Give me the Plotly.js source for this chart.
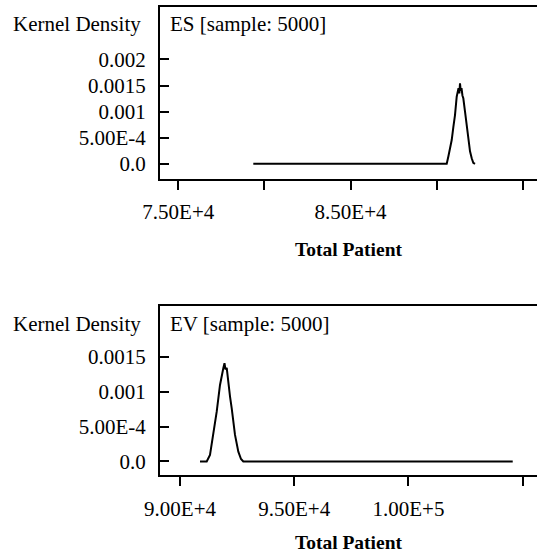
<!DOCTYPE html>
<html>
<head>
<meta charset="utf-8">
<script src="https://cdn.plot.ly/plotly-3.0.1.min.js"></script>
<style>html,body{margin:0;padding:0;background:#fff;}</style>
</head>
<body>
<div id="chart" style="width:537px;height:553px;"></div>
<script>
// ES kernel density (Total Patient vs density)
const esX = [79355, 82000, 85000, 88000, 90587, 90679, 90780, 90877, 90970, 91068, 91167, 91230, 91272, 91320, 91359, 91400, 91446, 91500, 91551, 91650, 91748, 91841, 91940, 92039, 92130, 92230];
const esY = [0, 0, 0, 0, 0, 0.000136, 0.00029, 0.000456, 0.00070, 0.000935, 0.001286, 0.00136, 0.00145, 0.00135, 0.001542, 0.00140, 0.00145, 0.00131, 0.001255, 0.00100, 0.000743, 0.000423, 0.00024, 0.000105, 0.00002, 0];
// EV kernel density
const evX = [90876, 91169, 91313, 91458, 91607, 91751, 91839, 91896, 91948, 91990, 92045, 92115, 92190, 92264, 92408, 92553, 92671, 92771, 95000, 98000, 101000, 104567];
const evY = [0, 0, 0.000093, 0.00038, 0.000714, 0.001096, 0.00128, 0.001336, 0.001407, 0.00132, 0.00134, 0.001096, 0.00093, 0.000762, 0.00038, 0.00014, 0.000036, 0, 0, 0, 0, 0];

const esTickVals = [75000, 80000, 85000, 90000, 95000];
const esTickText = ['7.50E+4', '', '8.50E+4', '', ''];
const evTickVals = [90000, 95000, 100000, 105000];
const evTickText = ['9.00E+4', '9.50E+4', '1.00E+5', ''];
const esYVals = [0, 0.0005, 0.001, 0.0015, 0.002];
const esYText = ['0.0', '5.00E-4', '0.001', '0.0015', '0.002'];
const evYVals = [0, 0.0005, 0.001, 0.0015];
const evYText = ['0.0', '5.00E-4', '0.001', '0.0015'];

const FONT = 'Liberation Serif, Times New Roman, serif';
const tickFont = {family: FONT, size: 21, color: '#000'};
const titleFont = {family: FONT, size: 19.5, color: '#000', weight: 'bold'};
const labelFont = {family: FONT, size: 21, color: '#000'};

const traces = [
  {x: esX, y: esY, type: 'scatter', mode: 'lines', line: {color: '#000', width: 2}, xaxis: 'x', yaxis: 'y', showlegend: false, hoverinfo: 'skip'},
  {x: evX, y: evY, type: 'scatter', mode: 'lines', line: {color: '#000', width: 2}, xaxis: 'x2', yaxis: 'y2', showlegend: false, hoverinfo: 'skip'}
];

const xBase = {
  showline: true, linewidth: 2, linecolor: '#000', mirror: true,
  ticks: 'outside', ticklen: 9, tickwidth: 2, tickcolor: '#000',
  showgrid: false, zeroline: false, tickmode: 'array',
  tickfont: tickFont,
  ticklabelstandoff: 4
};
const yBase = {
  showline: true, linewidth: 2, linecolor: '#000', mirror: false,
  ticks: 'inside', ticklen: 9, tickwidth: 2, tickcolor: '#000',
  showgrid: false, zeroline: false, tickmode: 'array',
  tickfont: tickFont,
  ticklabelstandoff: 8
};

const layout = {
  width: 537, height: 553,
  margin: {l: 0, r: 0, t: 0, b: 0},
  paper_bgcolor: '#fff', plot_bgcolor: '#fff',
  font: {family: FONT, size: 20, color: '#000'},
  xaxis: Object.assign({}, xBase, {domain: [0.29795, 1], anchor: 'y', range: [73937, 95830],
    tickvals: esTickVals, ticktext: esTickText,
    title: {text: 'Total Patient', font: titleFont, standoff: 20}}),
  yaxis: Object.assign({}, yBase, {domain: [0.6772, 0.9868], anchor: 'x', range: [-0.000282, 0.0030],
    tickvals: esYVals, ticktext: esYText}),
  xaxis2: Object.assign({}, xBase, {domain: [0.29795, 1], anchor: 'y2', range: [89124, 105630],
    tickvals: evTickVals, ticktext: evTickText,
    title: {text: 'Total Patient', font: titleFont, standoff: 16}}),
  yaxis2: Object.assign({}, yBase, {domain: [0.1405, 0.4467], anchor: 'x2', range: [-0.000198, 0.002228],
    tickvals: evYVals, ticktext: evYText}),
  annotations: [
    {text: 'Kernel Density', xref: 'paper', yref: 'paper', x: 143/537, y: 1 - 24/553, xanchor: 'right', yanchor: 'middle', showarrow: false, font: labelFont},
    {text: 'ES [sample: 5000]', xref: 'paper', yref: 'paper', x: 168/537, y: 1 - 24/553, xanchor: 'left', yanchor: 'middle', showarrow: false, font: labelFont},
    {text: 'Kernel Density', xref: 'paper', yref: 'paper', x: 143/537, y: 1 - 324/553, xanchor: 'right', yanchor: 'middle', showarrow: false, font: labelFont},
    {text: 'EV [sample: 5000]', xref: 'paper', yref: 'paper', x: 168/537, y: 1 - 324/553, xanchor: 'left', yanchor: 'middle', showarrow: false, font: labelFont}
  ]
};

Plotly.newPlot('chart', traces, layout, {staticPlot: true, displayModeBar: false});
</script>
</body>
</html>
